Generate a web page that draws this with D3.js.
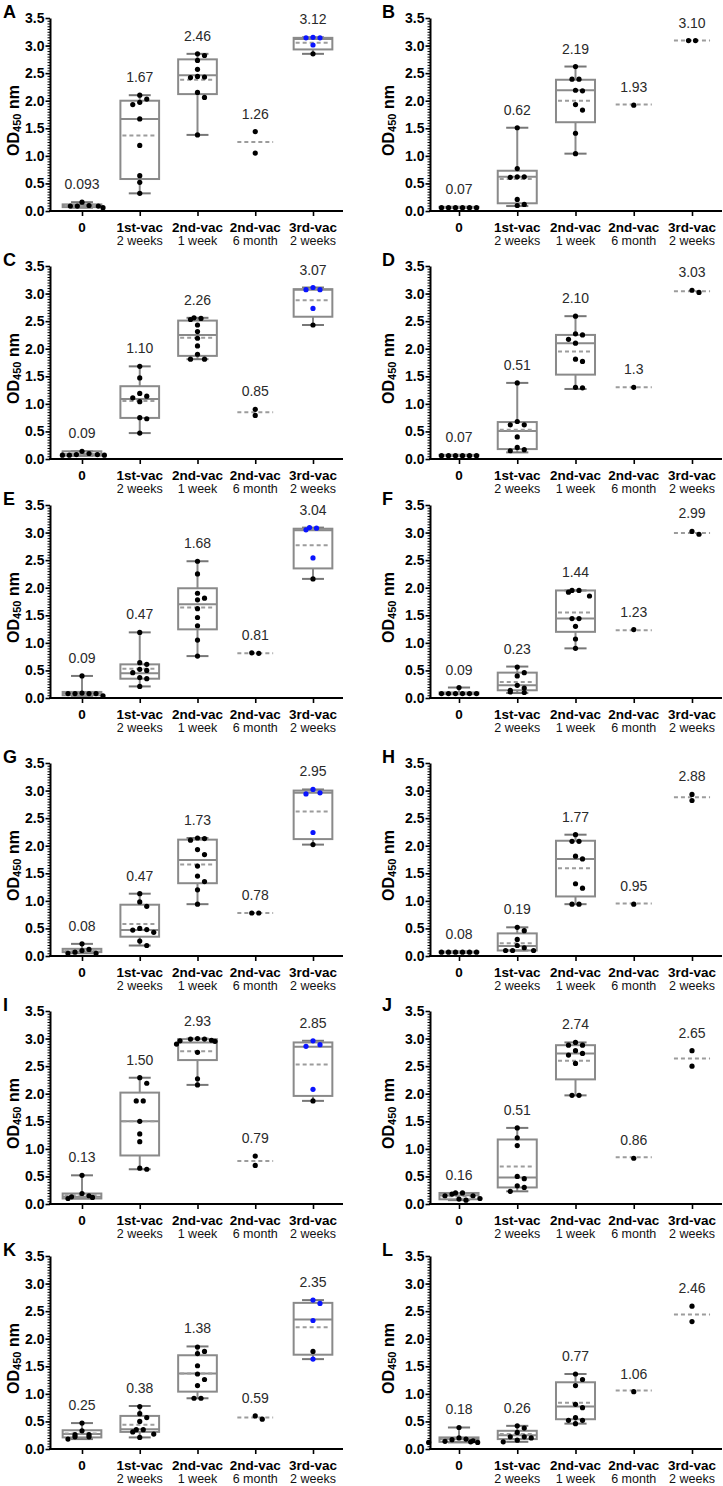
<!DOCTYPE html>
<html><head><meta charset="utf-8">
<script src="https://cdn.jsdelivr.net/npm/d3@7"></script>
<style>
body{margin:0;background:#fff}
svg{display:block}
text{font-family:"Liberation Sans",Arial,Helvetica,sans-serif}
</style>
</head><body>
<svg id="chart" width="723" height="1486"></svg>
<script>
// ---------------- DATA ----------------
const panelLetters = ["A","B","C","D","E","F","G","H","I","J","K","L"];
const categories = ["0","1st-vac","2nd-vac","2nd-vac","3rd-vac"];
const subLabels = ["","2 weeks","1 week","6 month","2 weeks"];
const yTicks = [0,0.5,1.0,1.5,2.0,2.5,3.0,3.5];
const yTitle = "OD";
const yTitleSub = "450";
const yTitleUnit = " nm";

// value labels shown above each group
const valueLabels = [
  ["0.093","1.67","2.46","1.26","3.12"],
  ["0.07","0.62","2.19","1.93","3.10"],
  ["0.09","1.10","2.26","0.85","3.07"],
  ["0.07","0.51","2.10","1.3","3.03"],
  ["0.09","0.47","1.68","0.81","3.04"],
  ["0.09","0.23","1.44","1.23","2.99"],
  ["0.08","0.47","1.73","0.78","2.95"],
  ["0.08","0.19","1.77","0.95","2.88"],
  ["0.13","1.50","2.93","0.79","2.85"],
  ["0.16","0.51","2.74","0.86","2.65"],
  ["0.25","0.38","1.38","0.59","2.35"],
  ["0.18","0.26","0.77","1.06","2.46"]
];

// black points per panel, per group
const blackPoints = [
  [[0.09,0.09,0.10,0.16,0.06,0.09],[2.10,2.03,1.97,1.93,1.67,1.19,0.64,0.52,0.32],[2.85,2.82,2.73,2.57,2.44,2.43,2.42,2.15,2.06,1.38],[1.44,1.05],[2.85]],
  [[0.06,0.06,0.06,0.06,0.06,0.06],[1.51,0.77,0.62,0.61,0.62,0.21,0.10,0.12],[2.62,2.39,2.39,2.19,2.18,1.93,1.83,1.41,1.04],[1.92],[3.09,3.09]],
  [[0.14,0.08,0.07,0.07,0.07,0.08,0.10],[1.68,1.47,1.19,1.14,1.11,1.04,0.75,0.73,0.47],[2.56,2.55,2.53,2.43,2.31,2.19,2.05,1.90,1.81,1.81],[0.90,0.79],[2.43]],
  [[0.06,0.06,0.06,0.06,0.06,0.06],[1.38,0.68,0.62,0.62,0.40,0.21,0.15,0.17],[2.59,2.27,2.25,2.17,2.10,1.81,1.77,1.29,1.30],[1.30],[3.02,3.06]],
  [[0.40,0.08,0.08,0.04,0.08,0.09,0.08],[1.19,0.64,0.61,0.52,0.50,0.46,0.37,0.35,0.21],[2.48,2.25,1.90,1.81,1.78,1.62,1.46,1.31,1.05,0.76],[0.81,0.82],[2.16]],
  [[0.19,0.08,0.08,0.08,0.08,0.08,0.08],[0.56,0.46,0.40,0.23,0.14,0.18,0.10,0.11],[1.95,1.85,1.92,1.95,1.44,1.44,1.30,1.07,0.90],[1.24],[2.97,3.02]],
  [[0.22,0.10,0.05,0.05,0.07,0.12],[1.13,0.98,0.90,0.50,0.48,0.43,0.47,0.27,0.19],[2.13,2.10,2.14,1.93,1.84,1.63,1.45,1.35,1.20,0.94],[0.78,0.78],[2.02]],
  [[0.07,0.07,0.07,0.07,0.07,0.07],[0.52,0.46,0.30,0.19,0.15,0.10,0.10,0.10],[2.20,2.08,2.08,1.81,1.76,1.31,1.23,0.94,0.94],[0.94],[2.93,2.82]],
  [[0.52,0.15,0.12,0.10,0.13,0.19],[2.29,2.19,1.87,1.87,1.50,1.27,1.13,0.63,0.65],[3.00,2.99,2.97,2.96,2.95,2.99,2.90,2.75,2.27,2.16],[0.87,0.70],[1.87]],
  [[0.15,0.18,0.20,0.20,0.09,0.07,0.10,0.15],[1.38,1.20,1.06,0.50,0.46,0.33,0.30,0.23],[2.88,2.88,2.93,2.78,2.73,2.55,1.97,1.97,2.70],[0.83],[2.78,2.50]],
  [[0.47,0.33,0.26,0.22,0.18,0.22,0.26],[0.77,0.64,0.57,0.50,0.35,0.35,0.31,0.27,0.21],[1.85,1.77,1.73,1.51,1.36,1.26,1.15,0.92,0.92],[0.54,0.60],[1.77]],
  [[0.39,0.20,0.18,0.17,0.15,0.13,0.12,0.12,0.14],[0.42,0.38,0.30,0.22,0.20,0.22,0.16,0.13],[1.36,1.26,1.15,0.81,0.75,0.57,0.52,0.46,0.52],[1.04],[2.59,2.31]]
];

// blue points (3rd-vac group only)
const bluePoints = [
  [3.15,3.14,3.14,3.01], [],
  [3.11,3.07,3.07,2.73], [],
  [3.09,3.05,3.08,2.54], [],
  [3.02,2.94,2.96,2.24], [],
  [2.96,2.86,2.89,2.08], [],
  [2.70,2.64,2.33,1.63], []
];

// box stats [min, q1, median, q3, max]; null = no box
const boxStats = [
  [[0.06,0.07,0.093,0.12,0.16],[0.32,0.58,1.67,2.00,2.10],[1.38,2.12,2.46,2.75,2.85],null,[2.85,2.93,3.12,3.14,3.15]],
  [[0.06,0.06,0.07,0.075,0.075],[0.09,0.14,0.62,0.73,1.51],[1.04,1.61,2.19,2.38,2.62],null,null],
  [[0.06,0.06,0.09,0.14,0.14],[0.47,0.745,1.09,1.32,1.68],[1.81,1.87,2.25,2.51,2.56],null,[2.43,2.58,3.07,3.08,3.11]],
  [[0.06,0.06,0.07,0.075,0.075],[0.12,0.18,0.51,0.67,1.38],[1.27,1.53,2.10,2.25,2.59],null,null],
  [[0.04,0.05,0.09,0.11,0.40],[0.21,0.35,0.45,0.61,1.19],[0.76,1.245,1.70,1.99,2.48],null,[2.16,2.35,3.04,3.07,3.09]],
  [[0.07,0.07,0.08,0.10,0.19],[0.09,0.14,0.23,0.46,0.57],[0.90,1.20,1.44,1.95,1.95],null,null],
  [[0.05,0.07,0.08,0.13,0.22],[0.19,0.35,0.47,0.93,1.13],[0.94,1.32,1.74,2.11,2.14],null,[2.02,2.12,2.96,3.00,3.02]],
  [[0.06,0.065,0.07,0.08,0.08],[0.10,0.10,0.18,0.41,0.52],[0.94,1.08,1.76,2.09,2.20],null,null],
  [[0.10,0.10,0.13,0.19,0.52],[0.63,0.88,1.50,2.02,2.29],[2.16,2.61,2.93,2.99,3.00],null,[1.87,1.96,2.85,2.93,2.96]],
  [[0.07,0.085,0.16,0.20,0.20],[0.23,0.30,0.48,1.17,1.38],[1.97,2.26,2.73,2.88,2.93],null,null],
  [[0.18,0.21,0.27,0.34,0.47],[0.21,0.31,0.36,0.60,0.78],[0.92,1.04,1.37,1.70,1.86],null,[1.63,1.71,2.35,2.65,2.70]],
  [[0.12,0.13,0.18,0.21,0.39],[0.13,0.18,0.25,0.33,0.42],[0.46,0.54,0.77,1.21,1.36],null,null]
];

// group means (dashed line)
const means = [
  [0.10,1.37,2.38,1.25,3.05],
  [0.065,0.58,2.00,1.93,3.09],
  [0.09,1.05,2.20,0.85,2.88],
  [0.065,0.53,1.95,1.30,3.04],
  [0.10,0.53,1.64,0.81,2.77],
  [0.09,0.29,1.55,1.23,2.99],
  [0.10,0.58,1.66,0.78,2.62],
  [0.07,0.23,1.59,0.95,2.88],
  [0.16,1.50,2.77,0.78,2.53],
  [0.14,0.68,2.60,0.85,2.64],
  [0.28,0.44,1.37,0.57,2.21],
  [0.18,0.27,0.84,1.06,2.44]
];

// ---------------- LAYOUT ----------------
const colAxisX = [50, 430];
const colFirstX = [82, 459];
const colLastX = [313, 692];
const colEndX = [343, 722];
const colLetterX = [3, 382];
const colTitleX = [12.5, 388];
const rowTop = [18, 266, 505, 763, 1011, 1256];
const plotH = 193;

const GRAY = "#8a8a8a";
const DASH = "#9c9c9c";
const BLUE = "#0a14ff";
const R = 2.6;

const svg = d3.select("#chart");

function dodge(items, y, step, minDist) {
  const order = items.map((d,i)=>i).sort((a,b)=>items[b].v-items[a].v);
  const placed = [];
  for (const i of order) {
    const yy = y(items[i].v);
    for (let k=0;k<40;k++) {
      const o = k===0 ? 0 : (k%2 ? Math.ceil(k/2)*step : -Math.ceil(k/2)*step);
      if (placed.every(p => (p.x-o)*(p.x-o)+(p.y-yy)*(p.y-yy) >= minDist*minDist)) {
        items[i].dx = o; items[i].py = yy; placed.push({x:o,y:yy}); break;
      }
    }
  }
  // center rows of tied values
  const rows = d3.groups(items, d => Math.round(d.py));
  rows.forEach(([k, arr]) => {
    if (arr.length > 1) {
      const m = d3.mean(arr, d => d.dx);
      arr.forEach(d => d.dx -= m);
    }
  });
  return items;
}

panelLetters.forEach((letter, p) => {
  const col = p % 2, row = Math.floor(p / 2);
  const top = rowTop[row], bottom = top + plotH;
  const y = d3.scaleLinear().domain([0, 3.5]).range([bottom, top]);
  const x = d3.scalePoint().domain(d3.range(categories.length)).range([colFirstX[col], colLastX[col]]);
  const step = x.step();
  const boxW = step * 0.67, capW = step * 0.38, meanW = step * 0.62;
  const g = svg.append("g");

  // panel letter
  g.append("text").attr("x", colLetterX[col]).attr("y", top)
    .attr("font-size", 18).attr("font-weight", "bold").attr("fill", "#000").text(letter);

  // y axis title
  const t = g.append("text")
    .attr("transform", `translate(${colTitleX[col]},${(top+bottom)/2 + 6}) rotate(-90)`)
    .attr("text-anchor", "middle").attr("dominant-baseline", "central")
    .attr("font-size", 16).attr("font-weight", "bold").attr("fill", "#000");
  t.append("tspan").text(yTitle);
  t.append("tspan").attr("font-size", 11).attr("dy", 4).text(yTitleSub);
  t.append("tspan").attr("dy", -4).text(yTitleUnit);

  // minor ticks
  const minor = d3.range(0, 3.5001, 0.05);
  g.append("g").attr("transform", `translate(${colAxisX[col]},0)`)
    .call(d3.axisLeft(y).tickValues(minor).tickSize(2.5).tickSizeOuter(0).tickFormat(""))
    .call(s => s.select(".domain").remove())
    .call(s => s.selectAll("line").attr("stroke", "#000").attr("stroke-width", 1));

  // major y axis
  g.append("g").attr("transform", `translate(${colAxisX[col]},0)`)
    .call(d3.axisLeft(y).tickValues(yTicks).tickFormat(d3.format(".1f")).tickSize(4.5).tickSizeOuter(0).tickPadding(1))
    .call(s => s.select(".domain").attr("stroke", "#000").attr("stroke-width", 2))
    .call(s => s.selectAll("line").attr("stroke", "#000").attr("stroke-width", 1.6))
    .call(s => s.selectAll("text").attr("font-size", 14).attr("font-weight", "bold").attr("fill", "#000")
      .attr("font-family", "Liberation Sans, Arial, sans-serif"));

  // x axis
  g.append("line").attr("x1", colAxisX[col] - 1).attr("x2", colEndX[col])
    .attr("y1", bottom).attr("y2", bottom).attr("stroke", "#000").attr("stroke-width", 2);
  g.append("g").attr("transform", `translate(0,${bottom})`)
    .call(d3.axisBottom(x).tickSize(5).tickSizeOuter(0).tickFormat(""))
    .call(s => s.select(".domain").remove())
    .call(s => s.selectAll("line").attr("stroke", "#000").attr("stroke-width", 1.6));

  categories.forEach((c, i) => {
    g.append("text").attr("x", x(i)).attr("y", bottom + 20.5).attr("text-anchor", "middle")
      .attr("font-size", 13.5).attr("font-weight", "bold").attr("fill", "#000").text(c);
    if (subLabels[i]) g.append("text").attr("x", x(i)).attr("y", bottom + 33.5).attr("text-anchor", "middle")
      .attr("font-size", 12.5).attr("fill", "#111").text(subLabels[i]);
  });

  // groups
  categories.forEach((c, i) => {
    const cx = x(i);
    const bs = boxStats[p][i];
    if (bs) {
      const [mn, q1, md, q3, mx] = bs;
      g.append("line").attr("x1", cx).attr("x2", cx).attr("y1", y(mx)).attr("y2", y(q3))
        .attr("stroke", GRAY).attr("stroke-width", 2);
      g.append("line").attr("x1", cx).attr("x2", cx).attr("y1", y(q1)).attr("y2", y(mn))
        .attr("stroke", GRAY).attr("stroke-width", 2);
      [mn, mx].forEach(v => g.append("line").attr("x1", cx - capW/2).attr("x2", cx + capW/2)
        .attr("y1", y(v)).attr("y2", y(v)).attr("stroke", "#777").attr("stroke-width", 2));
      g.append("rect").attr("x", cx - boxW/2).attr("y", y(q3)).attr("width", boxW)
        .attr("height", Math.max(y(q1) - y(q3), 0.5)).attr("fill", "none")
        .attr("stroke", GRAY).attr("stroke-width", 2);
      g.append("line").attr("x1", cx - boxW/2).attr("x2", cx + boxW/2)
        .attr("y1", y(md)).attr("y2", y(md)).attr("stroke", GRAY).attr("stroke-width", 2);
      g.append("line").attr("x1", cx - boxW/2 + 2).attr("x2", cx + boxW/2 - 2)
        .attr("y1", y(means[p][i])).attr("y2", y(means[p][i]))
        .attr("stroke", DASH).attr("stroke-width", 2).attr("stroke-dasharray", "4,3");
    } else {
      g.append("line").attr("x1", cx - meanW/2).attr("x2", cx + meanW/2)
        .attr("y1", y(means[p][i])).attr("y2", y(means[p][i]))
        .attr("stroke", DASH).attr("stroke-width", 2).attr("stroke-dasharray", "4,3");
    }

    const items = blackPoints[p][i].map(v => ({v, color: "#000"}));
    if (i === 4) bluePoints[p].forEach(v => items.push({v, color: BLUE}));
    dodge(items, y, 7, 6);
    g.selectAll(null).data(items).join("circle")
      .attr("cx", d => cx + d.dx).attr("cy", d => y(d.v)).attr("r", R).attr("fill", d => d.color);

    const maxV = Math.max(d3.max(items, d => d.v), bs ? bs[4] : 0);
    g.append("text").attr("x", cx).attr("y", y(maxV) - 13).attr("text-anchor", "middle")
      .attr("font-size", 14).attr("fill", "#2a2a2a").text(valueLabels[p][i]);
  });
});
</script>
</body></html>
